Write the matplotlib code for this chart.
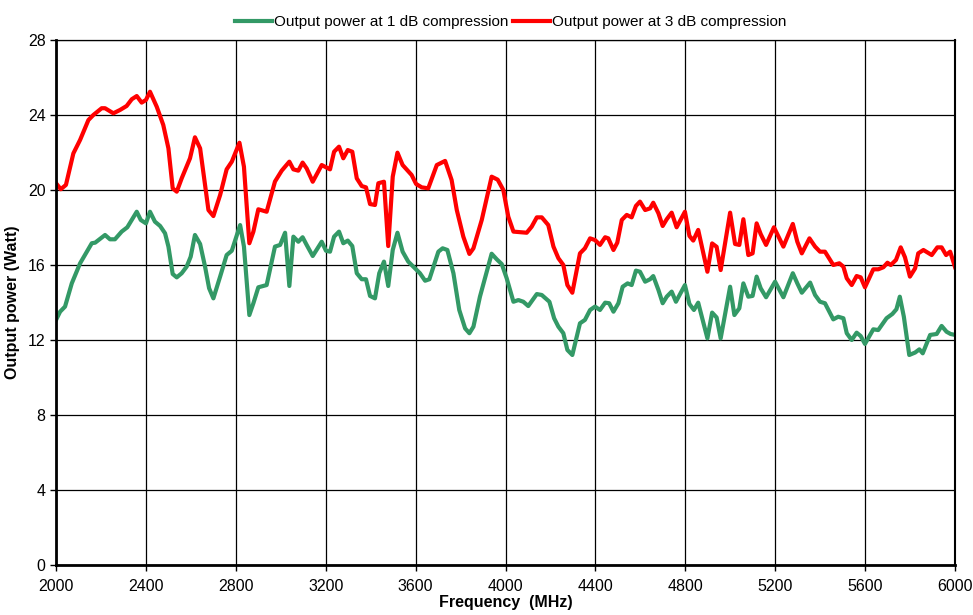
import matplotlib.pyplot as plt

plt.rcParams['font.family'] = ['Liberation Sans', 'DejaVu Sans']

# Output power at 1 dB compression (green)
freq_1db = [2000, 2018, 2040, 2070, 2107, 2159, 2174, 2218, 2240, 2262, 2292, 2317, 2337, 2359, 2377,
            2400, 2418, 2440, 2463, 2485, 2500, 2519, 2537, 2559, 2581, 2599, 2618, 2641, 2663, 2681,
            2700, 2730, 2759, 2782, 2819, 2836, 2860, 2878, 2900, 2937, 2974, 2997, 3019, 3038, 3056,
            3078, 3097, 3115, 3142, 3182, 3201, 3219, 3237, 3259, 3278, 3298, 3318, 3338, 3360, 3379,
            3397, 3419, 3438, 3459, 3478, 3498, 3519, 3542, 3567, 3597, 3619, 3642, 3661, 3701, 3720,
            3741, 3768, 3794, 3820, 3839, 3857, 3886, 3938, 3961, 3983, 4005, 4035, 4057, 4079, 4101,
            4139, 4161, 4195, 4216, 4235, 4257, 4275, 4297, 4331, 4353, 4376, 4398, 4420, 4443, 4461,
            4480, 4502, 4521, 4543, 4561, 4580, 4598, 4621, 4643, 4657, 4680, 4699, 4717, 4739, 4758,
            4798, 4818, 4838, 4857, 4880, 4898, 4919, 4939, 4957, 4999, 5018, 5040, 5058, 5080, 5099,
            5117, 5135, 5159, 5199, 5236, 5278, 5298, 5318, 5355, 5377, 5399, 5421, 5458, 5480, 5503,
            5518, 5540, 5562, 5580, 5599, 5636, 5658, 5695, 5721, 5739, 5754, 5772, 5796, 5822, 5841,
            5856, 5889, 5918, 5940, 5962, 5980, 6000]
power_1db = [13.07, 13.51, 13.78, 15.02, 16.09, 17.16, 17.19, 17.6, 17.37, 17.37, 17.78, 18.01, 18.4, 18.84, 18.4,
             18.22, 18.84, 18.31, 18.08, 17.69, 16.98, 15.52, 15.34, 15.56, 15.91, 16.44, 17.6, 17.12, 15.91, 14.76,
             14.22, 15.38, 16.53, 16.76, 18.13, 16.98, 13.33, 13.96, 14.81, 14.93, 16.98, 17.07, 17.72, 14.88, 17.51,
             17.24, 17.48, 17.07, 16.48, 17.24, 16.76, 16.71, 17.51, 17.78, 17.16, 17.3, 17.01, 15.56, 15.24, 15.24,
             14.35, 14.22, 15.56, 16.18, 14.88, 16.8, 17.72, 16.71, 16.18, 15.82, 15.56, 15.16, 15.24, 16.71, 16.89,
             16.8, 15.56, 13.6, 12.62, 12.36, 12.71, 14.31, 16.6, 16.3, 16.05, 15.29, 14.04, 14.13, 14.04, 13.81,
             14.45, 14.4, 14.04, 13.16, 12.71, 12.36, 11.47, 11.2, 12.89, 13.07, 13.6, 13.78, 13.6, 13.99, 13.96,
             13.51, 13.96, 14.84, 15.02, 14.93, 15.7, 15.64, 15.11, 15.24, 15.41, 14.67, 13.96, 14.31, 14.58, 14.04,
             14.93, 13.92, 13.6, 13.99, 12.92, 12.09, 13.46, 13.2, 12.09, 14.84, 13.33, 13.69, 15.02, 14.31, 14.35,
             15.38, 14.76, 14.28, 15.11, 14.28, 15.56, 15.02, 14.52, 15.06, 14.4, 14.04, 13.96, 13.1, 13.24, 13.16,
             12.36, 12.0, 12.39, 12.21, 11.79, 12.57, 12.53, 13.16, 13.39, 13.64, 14.31, 13.24, 11.2, 11.33, 11.5,
             11.29, 12.27, 12.32, 12.75, 12.44, 12.32, 12.27]

# Output power at 3 dB compression (red)
freq_3db = [2000, 2021, 2044, 2077, 2107, 2144, 2166, 2203, 2218, 2255, 2285, 2314, 2337, 2359, 2381,
            2400, 2418, 2448, 2477, 2500, 2519, 2537, 2559, 2596, 2618, 2641, 2678, 2700, 2730, 2759,
            2782, 2816, 2836, 2860, 2878, 2900, 2937, 2974, 3004, 3038, 3056, 3078, 3097, 3115, 3142,
            3182, 3201, 3219, 3237, 3259, 3278, 3298, 3318, 3338, 3360, 3379, 3397, 3419, 3434, 3459,
            3478, 3498, 3519, 3542, 3582, 3602, 3627, 3656, 3694, 3731, 3760, 3783, 3812, 3839, 3857,
            3894, 3938, 3965, 3990, 4012, 4035, 4094, 4116, 4139, 4161, 4190, 4213, 4235, 4257, 4275,
            4297, 4331, 4353, 4376, 4398, 4420, 4443, 4457, 4480, 4497, 4517, 4539, 4561, 4580, 4598,
            4621, 4643, 4657, 4680, 4699, 4717, 4739, 4761, 4798, 4818, 4835, 4857, 4880, 4898, 4919,
            4939, 4957, 4999, 5021, 5040, 5058, 5080, 5099, 5117, 5135, 5159, 5194, 5236, 5278, 5298,
            5318, 5352, 5377, 5399, 5421, 5458, 5485, 5503, 5518, 5540, 5562, 5580, 5599, 5636, 5658,
            5681, 5699, 5714, 5737, 5758, 5777, 5799, 5822, 5836, 5859, 5896, 5921, 5940, 5960, 5978,
            6000]
power_3db = [20.36, 20.04, 20.27, 21.95, 22.67, 23.73, 24.0, 24.36, 24.36, 24.09, 24.27, 24.48, 24.84, 25.01, 24.66,
             24.8, 25.24, 24.44, 23.47, 22.22, 20.09, 19.91, 20.62, 21.69, 22.81, 22.22, 18.93, 18.61, 19.73, 21.1,
             21.51, 22.52, 21.24, 17.16, 17.78, 18.97, 18.84, 20.45, 21.03, 21.51, 21.1, 21.03, 21.46, 21.15, 20.44,
             21.33, 21.21, 21.1, 22.04, 22.31, 21.69, 22.13, 22.04, 20.62, 20.21, 20.14, 19.25, 19.2, 20.36, 20.44,
             17.01, 20.71, 21.99, 21.33, 20.8, 20.32, 20.14, 20.09, 21.33, 21.55, 20.53, 18.93, 17.51, 16.59, 16.89,
             18.4, 20.71, 20.55, 20.0, 18.58, 17.78, 17.72, 18.04, 18.54, 18.54, 18.13, 16.98, 16.36, 16.0, 14.93,
             14.52, 16.62, 16.89, 17.42, 17.33, 17.07, 17.48, 17.42, 16.8, 17.19, 18.4, 18.67, 18.54, 19.15, 19.38,
             18.93, 19.02, 19.32, 18.76, 18.08, 18.44, 18.79, 18.01, 18.84, 17.55, 17.3, 17.87, 16.62, 15.64, 17.15,
             16.97, 15.73, 18.79, 17.12, 17.07, 18.44, 16.53, 16.62, 18.22, 17.65, 17.07, 18.01, 16.98, 18.19, 17.24,
             16.62, 17.42, 16.98, 16.71, 16.71, 16.0, 16.09, 15.91, 15.29, 14.93, 15.41, 15.34, 14.81, 15.77, 15.77,
             15.88, 16.12, 16.0, 16.27, 16.94, 16.41, 15.38, 15.82, 16.62, 16.8, 16.53, 16.94, 16.94, 16.53, 16.71,
             15.88]

x_ticks = list(range(2000, 6001, 400))
y_ticks = list(range(0, 29, 4))

fig = plt.figure(figsize=(9.73, 6.15), dpi=100)
ax = fig.add_axes([0.0576, 0.0813, 0.924, 0.8537])

ax.plot(freq_1db, power_1db, color='#339966', lw=3, label='Output power at 1 dB compression')
ax.plot(freq_3db, power_3db, color='#ff0000', lw=3, label='Output power at 3 dB compression')

ax.set_xlim(2000, 6000)
ax.set_ylim(0, 28)
ax.set_xticks(x_ticks)
ax.set_yticks(y_ticks)
ax.tick_params(labelsize=11.5, length=4, width=1, direction='out')
ax.tick_params(axis='x', pad=6)
ax.grid(True, color='black', lw=0.9)
ax.set_axisbelow(True)
for side in ['left', 'bottom']:
    ax.spines[side].set_linewidth(2)
ax.spines['right'].set_linewidth(1.5)
ax.spines['top'].set_linewidth(0.9)

ax.set_xlabel('Frequency  (MHz)', fontsize=11.5, fontweight='bold', labelpad=1)
ax.set_ylabel('Output power (Watt)', fontsize=11.5, fontweight='bold', labelpad=6)

ax.legend(loc='lower center', bbox_to_anchor=(0.506, 1.0), ncol=2, frameon=False,
          fontsize=11, handlelength=2.4, handletextpad=0.15, columnspacing=0.3,
          borderaxespad=0.3)

fig.savefig('out.png', dpi=100)
